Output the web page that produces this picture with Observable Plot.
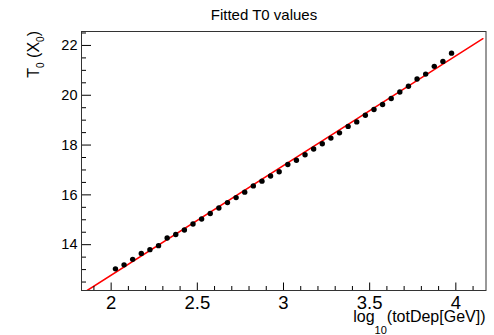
<!DOCTYPE html>
<html>
<head>
<meta charset="utf-8">
<script src="https://cdn.jsdelivr.net/npm/d3@7"></script>
<script src="https://cdn.jsdelivr.net/npm/@observablehq/plot@0.6"></script>
<style>
  html, body { margin: 0; padding: 0; background: #fff; }
  #chart { width: 494px; height: 335px; }
  svg { font-family: "Liberation Sans", Arial, Helvetica, sans-serif; }
</style>
</head>
<body>
<div id="chart"></div>
<script>
// Data points: log10(totDep[GeV]) and fitted T0 (X0)
const logE = [2.025, 2.075, 2.125, 2.175, 2.225, 2.275, 2.325, 2.375, 2.425, 2.475,
              2.525, 2.575, 2.625, 2.675, 2.725, 2.775, 2.825, 2.875, 2.925, 2.975,
              3.025, 3.075, 3.125, 3.175, 3.225, 3.275, 3.325, 3.375, 3.425, 3.475,
              3.525, 3.575, 3.625, 3.675, 3.725, 3.775, 3.825, 3.875, 3.925, 3.975];
const t0 = [13.03, 13.19, 13.41, 13.65, 13.80, 13.96, 14.27, 14.41, 14.59, 14.83,
            15.03, 15.25, 15.47, 15.69, 15.89, 16.11, 16.36, 16.55, 16.76, 16.93,
            17.22, 17.39, 17.61, 17.84, 18.05, 18.28, 18.49, 18.75, 18.93, 19.20,
            19.43, 19.63, 19.87, 20.13, 20.36, 20.65, 20.85, 21.16, 21.36, 21.69];

// Fitted straight line end points
const fitX = [1.861, 4.157];
const fitY = [12.16, 22.27];

// Axis ranges and ticks
const xDomain = [1.828, 4.175];
const yDomain = [12.16, 22.56];
const xMajor = [2, 2.5, 3, 3.5, 4];
const xMinor = [1.9, 2.1, 2.2, 2.3, 2.4, 2.6, 2.7, 2.8, 2.9, 3.1, 3.2, 3.3, 3.4, 3.6, 3.7, 3.8, 3.9, 4.1];
const yMajor = [14, 16, 18, 20, 22];
const yMinor = [12.5, 13, 13.5, 14.5, 15, 15.5, 16.5, 17, 17.5, 18.5, 19, 19.5, 20.5, 21, 21.5, 22.5];

const titleText = "Fitted T0 values";

const W = 494, H = 335;
const mL = 81, mR = 8.5, mT = 31, mB = 45;
const frameW = W - mL - mR, frameH = H - mT - mB;

const pts = logE.map((x, i) => ({x, y: t0[i]}));
const fit = fitX.map((x, i) => ({x, y: fitY[i]}));

const chart = Plot.plot({
  width: W, height: H,
  marginLeft: mL, marginRight: mR, marginTop: mT, marginBottom: mB,
  style: {fontFamily: '"Liberation Sans", Arial, Helvetica, sans-serif', background: "#fff", color: "#000"},
  x: {domain: xDomain, label: null, axis: null},
  y: {domain: yDomain, label: null, axis: null},
  marks: [
    Plot.line(fit, {x: "x", y: "y", stroke: "#ff0000", strokeWidth: 1.5, clip: true}),
    Plot.dot(pts, {x: "x", y: "y", r: 2.7, fill: "#000", stroke: "none"}),
    Plot.tickX(xMajor, {x: d => d, insetTop: frameH - 7.5, stroke: "#000", strokeWidth: 1}),
    Plot.tickX(xMinor, {x: d => d, insetTop: frameH - 4, stroke: "#000", strokeWidth: 1}),
    Plot.tickY(yMajor, {y: d => d, insetRight: frameW - 10, stroke: "#000", strokeWidth: 1}),
    Plot.tickY(yMinor, {y: d => d, insetRight: frameW - 5, stroke: "#000", strokeWidth: 1}),
    Plot.text(xMajor, {x: d => d, frameAnchor: "bottom", lineAnchor: "top", dy: 5, text: d => String(d), fontSize: 18.5, fill: "#000"}),
    Plot.text(yMajor, {y: d => d, frameAnchor: "left", textAnchor: "end", lineAnchor: "middle", dx: -4, text: d => String(d), fontSize: 14.5, fill: "#000"}),
    Plot.frame({stroke: "#333", strokeWidth: 1})
  ]
});

const svg = d3.select(chart);

// Title
svg.append("text")
  .attr("x", 264).attr("y", 19.5)
  .attr("text-anchor", "middle")
  .style("font-size", "15px")
  .attr("fill", "#000")
  .text(titleText);

// X-axis title: log10(totDep[GeV]) right-aligned
const xt = svg.append("text")
  .attr("x", W - mR).attr("y", 322)
  .attr("text-anchor", "end")
  .style("font-size", "16px")
  .attr("fill", "#000");
xt.append("tspan").text("log");
xt.append("tspan").style("font-size", "11px").attr("dy", 11.5).text("10");
xt.append("tspan").attr("dy", -11.5).text("(totDep[GeV])");

// Y-axis title: T0 (X0) rotated, right-aligned at top of frame
const yt = svg.append("text")
  .attr("transform", `translate(38.5, ${mT}) rotate(-90)`)
  .attr("text-anchor", "end")
  .style("font-size", "16px")
  .attr("fill", "#000");
yt.append("tspan").text("T");
yt.append("tspan").style("font-size", "10px").attr("dy", 5).text("0");
yt.append("tspan").attr("dy", -5).text(" (X");
yt.append("tspan").style("font-size", "10px").attr("dy", 5).text("0");
yt.append("tspan").attr("dy", -5).text(")");

document.getElementById("chart").appendChild(chart);
</script>
</body>
</html>
